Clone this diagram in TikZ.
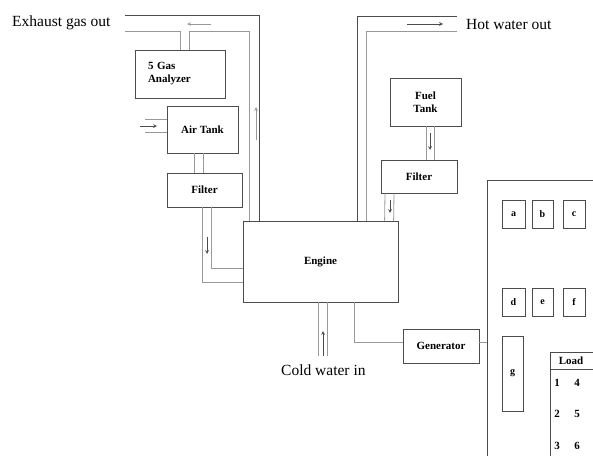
\documentclass[tikz,border=0pt]{standalone}
\usepackage{fontspec}
\setmainfont{Liberation Serif}
\usetikzlibrary{arrows,positioning}

\definecolor{linedark}{gray}{0.3}
\definecolor{linelight}{gray}{0.6}

\begin{document}
\begin{tikzpicture}[
    x=1pt, y=-1pt,
    box/.style={rectangle, draw=linedark, line width=0.8pt, inner sep=0pt, align=center, font=\fontsize{11}{13}\selectfont\bfseries},
    keybox/.style={box, minimum height=28pt, font=\fontsize{10}{12}\selectfont\bfseries},
    cell/.style={inner sep=0pt, font=\fontsize{11}{13}\selectfont\bfseries},
    pipe/.style={draw=linelight, line width=0.8pt},
    hose/.style={draw=linedark, line width=0.8pt},
    flow/.style={->, >=stealth, draw=linedark, line width=0.7pt},
    outtext/.style={font=\fontsize{15.5}{17}\selectfont, anchor=base west, inner sep=0pt}
]
\useasboundingbox (0,0) rectangle (593,455);
\clip (0,0) rectangle (593,455);

\node[box, minimum width=90pt, minimum height=48pt, text width=64pt, align=left] (analyzer) at (180,74) {5 Gas\\Analyzer};
\node[box, minimum width=71pt, minimum height=47pt] (airtank) at (202.5,129.5) {Air Tank};
\node[box, minimum width=75pt, minimum height=34pt] (filterL) at (204.5,190) {Filter};
\node[box, minimum width=155pt, minimum height=81pt] (engine) at (320.5,261.5) {Engine};
\node[box, minimum width=71pt, minimum height=48pt] (fueltank) at (425.5,102) {Fuel\\Tank};
\node[box, minimum width=76pt, minimum height=33pt] (filterR) at (419,176.5) {Filter};
\node[box, minimum width=76pt, minimum height=34pt] (generator) at (441,346) {Generator};

\node[draw=linedark, line width=0.8pt, minimum width=213pt, minimum height=324pt] (panel) at (593.5,342) {};
\node[keybox, minimum width=23pt] (keya) at (513.5,214) {a};
\node[keybox, minimum width=21pt] (keyb) at (542.5,214) {b};
\node[keybox, minimum width=22pt] (keyc) at (574,214) {c};
\node[keybox, minimum width=23pt] (keyd) at (513.5,302) {d};
\node[keybox, minimum width=21pt] (keye) at (542.5,302) {e};
\node[keybox, minimum width=22pt] (keyf) at (574,302) {f};
\node[keybox, minimum width=21pt, minimum height=75pt] (keyg) at (512.5,373.5) {g};

\node[draw=linedark, line width=0.8pt, minimum width=100pt, minimum height=150pt, anchor=north west] (load) at (550,352) {};
\draw[hose] ([yshift=-17pt]load.north west) -- ([yshift=-17pt]load.north east);
\node[cell] (loadhead) at (571,361) {Load};
\node[cell] (n1) at (557,383) {1};
\node[cell] (n4) at (577,383) {4};
\node[cell] (n2) at (557,414) {2};
\node[cell] (n5) at (577,414) {5};
\node[cell] (n3) at (557,446) {3};
\node[cell] (n6) at (577,446) {6};

\node[outtext] (exhaust) at (12,26) {Exhaust gas out};
\node[outtext] (hotwater) at (466,29) {Hot water out};
\node[outtext] (coldwater) at (281,375) {Cold water in};

\coordinate (exh1) at (125,15.5);
\coordinate (exh2) at (125,31);
\coordinate (hot1) at (457,16);
\coordinate (hot2) at (457,31);
\coordinate (air1) at (145,119);
\coordinate (air2) at (145,132);
\coordinate (cw1) at (318,356);
\coordinate (cw2) at (327,356);
\coordinate (tap) at ([xshift=9pt]analyzer.north);

\draw[hose] ([xshift=17pt]engine.north west) |- (exh1);
\draw[pipe] ([xshift=7pt]engine.north west) |- (tap |- exh2) -- (tap);
\draw[pipe] (exh2) -| (analyzer.north);
\draw[hose] ([xshift=115pt]engine.north west) |- (hot1);
\draw[pipe] ([xshift=124pt]engine.north west) |- (hot2);
\draw[pipe] (air1) -- (air1 -| airtank.west);
\draw[pipe] (air2) -- (air2 -| airtank.west);
\draw[pipe] ([xshift=-8.5pt]airtank.south) -- ([xshift=-10.5pt]filterL.north);
\draw[pipe] ([xshift=0.5pt]airtank.south) -- ([xshift=-1.5pt]filterL.north);
\draw[pipe] ([xshift=-2.5pt]filterL.south) |- ([yshift=-20.5pt]engine.west);
\draw[pipe] ([xshift=6.5pt]filterL.south) |- ([yshift=-6.5pt]engine.west);
\draw[pipe] ([xshift=0.5pt]fueltank.south) -- ([xshift=7pt]filterR.north);
\draw[pipe] ([xshift=8.5pt]fueltank.south) -- ([xshift=15pt]filterR.north);
\draw[pipe] ([xshift=-34pt]filterR.south) -- ([xshift=142pt]engine.north west);
\draw[pipe] ([xshift=-25pt]filterR.south) -- ([xshift=151pt]engine.north west);
\draw[pipe] ([xshift=-2.5pt]engine.south) -- (cw1);
\draw[pipe] ([xshift=6.5pt]engine.south) -- (cw2);
\draw[pipe] ([xshift=33.5pt]engine.south) |- ([yshift=4pt]generator.west);
\draw[pipe] (panel.west -| generator.east) -- (panel.west);

\draw[flow, draw=linelight] (211,24) -- (187,24);
\draw[flow, draw=linelight] (256,140) -- (256,107);
\draw[flow] (140,126) -- (157,126);
\draw[flow] (207,237) -- (207,254);
\draw[flow] (407,24) -- (443,24);
\draw[flow] (430,133) -- (430,150);
\draw[flow] (390,200) -- (390,213);
\draw[flow] (323,356) -- (323,331);
\end{tikzpicture}
\end{document}
